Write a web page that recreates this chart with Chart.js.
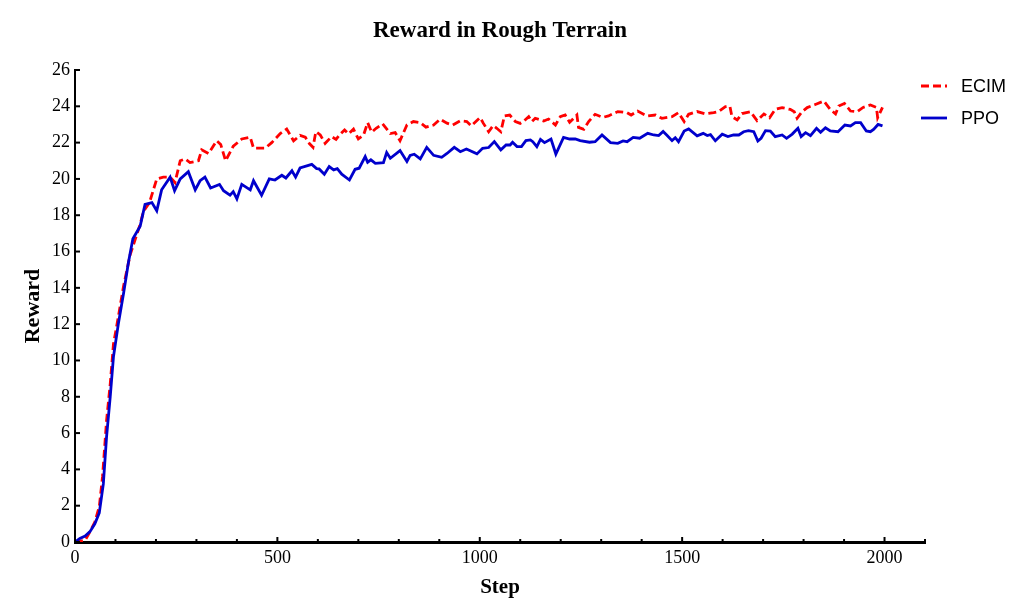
<!DOCTYPE html>
<html>
<head>
    <title>Reward in Rough Terrain</title>
    <script src="https://cdn.jsdelivr.net/npm/chart.js"></script>
    <style>
        body { margin: 0; background: #ffffff; }
        #wrap { width: 1026px; height: 614px; }
    </style>
</head>
<body>
    <div id="wrap">
        <canvas id="rewardChart" width="1026" height="614"></canvas>
    </div>

    <script>
        // values
        var chartTitle = 'Reward in Rough Terrain';
        var seriesNames = ['ECIM', 'PPO'];
        var xLabelSteps = [0, 500, 1000, 1500, 2000];

        var ecimSteps = [0, 25, 37, 49, 60, 68, 78, 87, 95, 107, 120, 136, 161, 169, 184, 202, 218, 235, 247, 260,
            272, 284, 305, 313, 330, 350, 360, 372, 391, 412, 433, 441, 470, 486, 507, 523, 540, 556, 569, 579,
            588, 595, 606, 618, 634, 645, 655, 666, 676, 688, 700, 713, 723, 733, 744, 760, 779, 791, 803, 820,
            836, 853, 867, 886, 902, 919, 933, 952, 968, 979, 1001, 1009, 1022, 1033, 1042, 1052, 1061, 1074, 1088, 1100,
            1108, 1121, 1129, 1137, 1158, 1170, 1187, 1199, 1211, 1222, 1240, 1244, 1257, 1269, 1285, 1304, 1318, 1341, 1364, 1374,
            1390, 1413, 1434, 1450, 1475, 1491, 1505, 1516, 1537, 1557, 1578, 1590, 1607, 1618, 1623, 1636, 1648, 1669, 1685, 1702,
            1716, 1730, 1747, 1767, 1777, 1784, 1796, 1809, 1829, 1850, 1866, 1879, 1887, 1901, 1916, 1932, 1947, 1965, 1980, 1983,
            1995];
        var ecimReward = [0, 0.1, 0.57, 1.1, 1.95, 3.6, 6.7, 8.7, 10.9, 12.4, 14.1, 15.8, 17.5, 18.2, 18.7, 20.0, 20.1, 20.1, 19.8, 21.0,
            21.1, 20.9, 21.0, 21.6, 21.4, 22.1, 21.9, 21.0, 21.8, 22.2, 22.3, 21.7, 21.7, 22.0, 22.5, 22.75, 22.1, 22.4, 22.3, 21.95,
            21.74, 22.6, 22.42, 21.96, 22.33, 22.18, 22.46, 22.7, 22.48, 22.74, 22.2, 22.42, 23.1, 22.57, 22.79, 23.03, 22.5, 22.55, 22.11, 22.97,
            23.16, 23.1, 22.85, 22.97, 23.29, 23.07, 22.97, 23.2, 23.16, 22.92, 23.38, 23.06, 22.6, 22.94, 22.79, 22.6, 23.47, 23.52, 23.16, 23.06,
            23.16, 23.43, 23.16, 23.34, 23.19, 23.3, 22.97, 23.43, 23.52, 23.12, 23.52, 22.84, 22.73, 23.16, 23.56, 23.39, 23.47, 23.71, 23.65, 23.52,
            23.74, 23.47, 23.52, 23.34, 23.43, 23.65, 23.16, 23.56, 23.71, 23.58, 23.65, 23.71, 23.98, 24.0, 23.43, 23.25, 23.6, 23.7, 23.21, 23.58,
            23.37, 23.83, 23.93, 23.83, 23.7, 23.34, 23.7, 23.93, 24.1, 24.29, 23.83, 23.58, 24.02, 24.16, 23.74, 23.7, 23.94, 24.07, 23.94, 23.37,
            23.94];

        var ppoSteps = [0, 12, 25, 37, 49, 60, 70, 78, 87, 95, 107, 120, 132, 143, 161, 173, 190, 202, 214, 235,
            246, 260, 280, 297, 309, 321, 335, 357, 367, 383, 391, 400, 412, 433, 441, 461, 480, 494, 511, 521,
            536, 545, 556, 585, 597, 603, 616, 628, 639, 648, 659, 678, 692, 702, 717, 723, 731, 742, 762, 770,
            779, 803, 820, 828, 838, 853, 869, 886, 906, 919, 937, 952, 967, 993, 1007, 1022, 1036, 1052, 1065, 1075,
            1081, 1092, 1103, 1114, 1125, 1131, 1141, 1150, 1160, 1176, 1188, 1207, 1222, 1236, 1248, 1271, 1285, 1302, 1323, 1341,
            1354, 1364, 1379, 1395, 1415, 1430, 1442, 1453, 1463, 1475, 1483, 1491, 1505, 1516, 1537, 1552, 1562, 1570, 1582, 1599,
            1613, 1627, 1640, 1652, 1664, 1677, 1687, 1695, 1706, 1718, 1730, 1747, 1758, 1772, 1786, 1794, 1805, 1817, 1832, 1842,
            1854, 1866, 1885, 1902, 1916, 1928, 1941, 1955, 1965, 1973, 1984, 1995];
        var ppoReward = [0, 0.2, 0.33, 0.57, 1.0, 1.6, 3.2, 5.8, 8.0, 10.2, 12.0, 13.7, 15.4, 16.7, 17.4, 18.6, 18.7, 18.25, 19.4, 20.1,
            19.35, 20.0, 20.4, 19.4, 19.9, 20.1, 19.5, 19.7, 19.35, 19.1, 19.3, 18.9, 19.7, 19.4, 19.9, 19.1, 20.0, 19.94, 20.2, 20.05,
            20.45, 20.1, 20.6, 20.8, 20.57, 20.55, 20.26, 20.68, 20.5, 20.57, 20.26, 19.94, 20.53, 20.59, 21.23, 20.92, 21.05, 20.86, 20.9, 21.45,
            21.14, 21.56, 20.96, 21.3, 21.36, 21.1, 21.74, 21.3, 21.19, 21.4, 21.74, 21.5, 21.65, 21.38, 21.69, 21.73, 22.06, 21.6, 21.87, 21.87,
            22.02, 21.78, 21.78, 22.11, 22.15, 22.05, 21.78, 22.18, 22.0, 22.2, 21.37, 22.29, 22.2, 22.2, 22.11, 22.02, 22.05, 22.42, 22.0, 21.96,
            22.09, 22.05, 22.29, 22.24, 22.51, 22.42, 22.39, 22.61, 22.39, 22.11, 22.27, 22.05, 22.64, 22.75, 22.37, 22.51, 22.39, 22.44, 22.1, 22.46,
            22.33, 22.42, 22.42, 22.6, 22.66, 22.6, 22.09, 22.24, 22.66, 22.64, 22.33, 22.42, 22.24, 22.47, 22.79, 22.33, 22.55, 22.38, 22.79, 22.57,
            22.82, 22.64, 22.6, 22.97, 22.92, 23.1, 23.1, 22.64, 22.6, 22.73, 23.0, 22.92];

        function toPoints(xs, ys) {
            return xs.map(function(x, i) { return { x: x, y: ys[i] }; });
        }

        var serif = "'Liberation Serif', 'Times New Roman', serif";

        // title centred over the plot area (not the whole canvas)
        var plotTitle = {
            id: 'plotTitle',
            afterDraw: function(chart) {
                var c = chart.ctx, a = chart.chartArea;
                c.save();
                c.font = 'bold 23px ' + serif;
                c.fillStyle = '#000';
                c.textAlign = 'center';
                c.textBaseline = 'middle';
                c.fillText(chartTitle, (a.left + a.right) / 2, 31);
                c.restore();
            }
        };

        // small tick marks pointing into the plot, like the original figure
        var innerTicks = {
            id: 'innerTicks',
            afterDraw: function(chart) {
                var c = chart.ctx;
                var xs = chart.scales.x, ys = chart.scales.y;
                var area = chart.chartArea;
                c.save();
                c.strokeStyle = '#000';
                c.lineWidth = 2;
                xs.ticks.forEach(function(t) {
                    var px = xs.getPixelForValue(t.value);
                    var len = (t.value % 500 === 0) ? 5 : 3;
                    c.beginPath();
                    c.moveTo(px, area.bottom);
                    c.lineTo(px, area.bottom - len);
                    c.stroke();
                });
                ys.ticks.forEach(function(t) {
                    var py = ys.getPixelForValue(t.value);
                    c.beginPath();
                    c.moveTo(area.left, py);
                    c.lineTo(area.left + 5, py);
                    c.stroke();
                });
                c.restore();
            }
        };

        // legend sitting to the right of the plot
        var sideLegend = {
            id: 'sideLegend',
            afterDraw: function(chart) {
                var c = chart.ctx;
                c.save();
                c.font = "18px 'Liberation Sans', Arial, sans-serif";
                c.textBaseline = 'middle';
                chart.data.datasets.forEach(function(ds, i) {
                    var y = 86 + i * 32;
                    c.strokeStyle = ds.borderColor;
                    c.lineWidth = ds.borderWidth;
                    c.setLineDash(ds.borderDash || []);
                    c.beginPath();
                    c.moveTo(921, y);
                    c.lineTo(947, y);
                    c.stroke();
                    c.setLineDash([]);
                    c.fillStyle = '#000';
                    c.fillText(ds.label, 961, y + 1);
                });
                c.restore();
            }
        };

        var ctx = document.getElementById('rewardChart');
        new Chart(ctx, {
            type: 'line',
            data: {
                datasets: [{
                    label: seriesNames[0],
                    data: toPoints(ecimSteps, ecimReward),
                    borderColor: '#ff0000',
                    borderWidth: 2.8,
                    borderDash: [8, 4],
                    pointRadius: 0,
                    fill: false,
                    tension: 0,
                    order: 1
                }, {
                    label: seriesNames[1],
                    data: toPoints(ppoSteps, ppoReward),
                    borderColor: '#0000cc',
                    borderWidth: 2.8,
                    pointRadius: 0,
                    fill: false,
                    tension: 0,
                    order: 0
                }]
            },
            options: {
                responsive: false,
                animation: false,
                devicePixelRatio: 1,
                layout: { padding: { left: 0, right: 101, top: 70, bottom: 0 } },
                plugins: {
                    legend: { display: false },
                    tooltip: { enabled: false },
                    title: { display: false }
                },
                scales: {
                    x: {
                        type: 'linear',
                        min: 0,
                        max: 2100,
                        grid: { display: false, drawTicks: false },
                        border: { display: true, color: '#000', width: 3 },
                        ticks: {
                            stepSize: 100,
                            autoSkip: false,
                            maxRotation: 0,
                            color: '#000',
                            padding: 5,
                            font: { family: serif, size: 18 },
                            callback: function(v) {
                                return xLabelSteps.indexOf(v) >= 0 ? String(v) : '';
                            }
                        },
                        title: {
                            display: true,
                            text: 'Step',
                            color: '#000',
                            font: { family: serif, size: 21, weight: 'bold' },
                            padding: { top: 0, bottom: 14 }
                        },
                        afterFit: function(s) { s.height = 72; }
                    },
                    y: {
                        min: 0,
                        max: 26,
                        grid: { display: false, drawTicks: false },
                        border: { display: true, color: '#000', width: 2 },
                        ticks: {
                            stepSize: 2,
                            color: '#000',
                            padding: 5,
                            font: { family: serif, size: 18 }
                        },
                        title: {
                            display: true,
                            text: 'Reward',
                            color: '#000',
                            font: { family: serif, size: 22, weight: 'bold' },
                            padding: { top: 20, bottom: 0 }
                        },
                        afterFit: function(s) { s.width = 75; }
                    }
                }
            },
            plugins: [plotTitle, innerTicks, sideLegend]
        });
    </script>
</body>
</html>
